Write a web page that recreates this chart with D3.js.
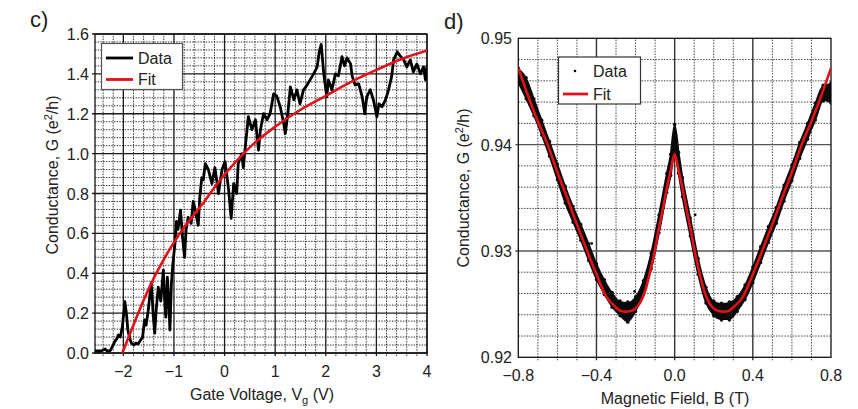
<!DOCTYPE html>
<html><head><meta charset="utf-8">
<script src="https://cdn.jsdelivr.net/npm/d3@7"></script>
<style>
html,body{margin:0;padding:0;background:#fff;}
svg{display:block;font-family:"Liberation Sans",Arial,sans-serif;}
</style></head>
<body><svg id="chart" width="858" height="409"></svg>
<script>
// ---------- Panel c data ----------
const gateV = [-2.57,-2.50,-2.42,-2.36,-2.32,-2.26,-2.22,-2.17,-2.12,-2.10,-2.06,-2.02,-1.97,-1.94,-1.91,-1.87,-1.84,-1.79,-1.75,-1.71,-1.68,-1.62,-1.58,-1.55,-1.51,-1.48,-1.45,-1.43,-1.41,-1.38,-1.35,-1.31,-1.26,-1.21,-1.19,-1.16,-1.13,-1.10,-1.08,-1.05,-1.02,-0.98,-0.95,-0.92,-0.87,-0.83,-0.79,-0.76,-0.72,-0.66,-0.62,-0.59,-0.52,-0.49,-0.45,-0.42,-0.38,-0.32,-0.25,-0.19,-0.12,-0.05,0.01,0.08,0.13,0.18,0.24,0.27,0.34,0.37,0.41,0.47,0.54,0.61,0.67,0.71,0.77,0.84,0.90,0.97,1.03,1.10,1.17,1.20,1.25,1.30,1.37,1.43,1.49,1.56,1.62,1.69,1.76,1.83,1.87,1.91,1.96,2.02,2.05,2.12,2.19,2.25,2.32,2.37,2.42,2.49,2.52,2.58,2.65,2.72,2.77,2.81,2.88,2.94,3.01,3.05,3.11,3.18,3.24,3.30,3.34,3.41,3.47,3.54,3.60,3.67,3.73,3.80,3.87,3.93,3.97,4.00];
const gateG = [0.01,0.01,0.012,0.02,0.01,0.012,0.03,0.057,0.075,0.09,0.08,0.13,0.257,0.20,0.115,0.07,0.05,0.04,0.05,0.045,0.057,0.08,0.166,0.14,0.21,0.28,0.35,0.28,0.19,0.10,0.22,0.33,0.26,0.416,0.30,0.18,0.38,0.25,0.115,0.35,0.45,0.55,0.66,0.62,0.717,0.58,0.48,0.62,0.68,0.65,0.76,0.73,0.64,0.78,0.88,0.87,0.95,0.92,0.85,0.93,0.80,0.92,0.96,0.82,0.675,0.85,0.80,0.95,1.00,0.93,1.035,1.185,1.12,1.17,1.018,1.12,1.20,1.17,1.20,1.30,1.29,1.235,1.15,1.10,1.20,1.335,1.27,1.32,1.25,1.32,1.34,1.37,1.40,1.435,1.51,1.548,1.40,1.285,1.37,1.32,1.40,1.39,1.486,1.44,1.48,1.45,1.39,1.344,1.35,1.285,1.20,1.285,1.32,1.27,1.185,1.25,1.235,1.27,1.32,1.385,1.47,1.51,1.49,1.47,1.435,1.47,1.41,1.45,1.40,1.435,1.37,1.44];
const fitCV = [-2.02,-1.8,-1.6,-1.4,-1.2,-1.0,-0.8,-0.6,-0.4,-0.2,0.0,0.3,0.6,1.0,1.5,2.0,2.5,3.0,3.5,4.0];
const fitCG = [0.0,0.14,0.265,0.375,0.47,0.555,0.63,0.695,0.76,0.83,0.895,0.98,1.055,1.135,1.22,1.29,1.36,1.42,1.475,1.516];
const cXTicks = [-2,-1,0,1,2,3,4];
const cYTicks = [0,0.2,0.4,0.6,0.8,1.0,1.2,1.4,1.6];

// ---------- Panel d data ----------
const fieldB = [-0.80,-0.76,-0.72,-0.68,-0.64,-0.60,-0.56,-0.52,-0.48,-0.44,-0.40,-0.36,-0.32,-0.28,-0.24,-0.20,-0.16,-0.12,-0.08,-0.04,-0.02,0.00,0.02,0.04,0.08,0.12,0.16,0.20,0.24,0.28,0.32,0.36,0.40,0.44,0.48,0.52,0.56,0.60,0.64,0.68,0.72,0.76,0.80];
const dataLo = [0.9459,0.9444,0.9428,0.9410,0.9390,0.9368,0.9346,0.9328,0.9311,0.9292,0.9274,0.9260,0.9248,0.9240,0.9234,0.9244,0.9260,0.9284,0.9318,0.9356,0.9372,0.9398,0.9374,0.9352,0.9315,0.9279,0.9252,0.9240,0.9236,0.9236,0.9244,0.9255,0.9271,0.9290,0.9309,0.9327,0.9348,0.9367,0.9388,0.9406,0.9424,0.9442,0.9440];
const dataHi = [0.9471,0.9462,0.9442,0.9422,0.9402,0.9381,0.9360,0.9341,0.9324,0.9306,0.9287,0.9272,0.9260,0.9252,0.9251,0.9256,0.9271,0.9297,0.9333,0.9372,0.9390,0.9418,0.9392,0.9368,0.9330,0.9292,0.9265,0.9252,0.9250,0.9251,0.9256,0.9267,0.9284,0.9303,0.9322,0.9340,0.9361,0.9380,0.9401,0.9419,0.9438,0.9455,0.9457];
const outlierB = [-0.425,-0.205,0.105];
const outlierG = [0.9307,0.9262,0.9334];
const fitDB = [-0.80,-0.75,-0.70,-0.65,-0.60,-0.55,-0.50,-0.45,-0.40,-0.35,-0.30,-0.275,-0.25,-0.225,-0.20,-0.175,-0.15,-0.125,-0.10,-0.08,-0.06,-0.04,-0.02,0.00,0.02,0.04,0.06,0.08,0.10,0.125,0.15,0.175,0.20,0.225,0.25,0.275,0.30,0.35,0.40,0.45,0.50,0.55,0.60,0.65,0.70,0.75,0.80];
const fitDG = [0.9472,0.9446,0.9422,0.9400,0.9374,0.9350,0.9325,0.9301,0.9278,0.9257,0.9247,0.92435,0.9243,0.92435,0.9246,0.9252,0.9263,0.9281,0.9302,0.9322,0.9340,0.9359,0.9376,0.9391,0.9376,0.9359,0.9340,0.9322,0.9302,0.9281,0.9263,0.9252,0.9246,0.92435,0.9243,0.92435,0.9247,0.9257,0.9278,0.9301,0.9325,0.9350,0.9374,0.9400,0.9422,0.9446,0.9472];
const dXTicks = [-0.8,-0.4,0.0,0.4,0.8];
const dYTicks = [0.92,0.93,0.94,0.95];

const svg = d3.select("#chart");
const RED = "#e3101a";

function drawFrame(g, x, y, majX, majY, minX, minY, style) {
  const [x0, x1] = x.range(), [y0, y1] = y.range();
  const gg = g.append("g");
  gg.selectAll(".mnx").data(minX).join("line")
    .attr("x1", d => x(d)).attr("x2", d => x(d)).attr("y1", y0 + style.tick).attr("y2", y1)
    .attr("stroke", style.minColor).attr("stroke-width", style.minW).attr("stroke-dasharray", style.dash);
  gg.selectAll(".mny").data(minY).join("line")
    .attr("y1", d => y(d)).attr("y2", d => y(d)).attr("x1", x0).attr("x2", x1)
    .attr("stroke", style.minColor).attr("stroke-width", style.minW).attr("stroke-dasharray", style.dash);
  gg.selectAll(".mjx").data(majX).join("line")
    .attr("x1", d => x(d)).attr("x2", d => x(d)).attr("y1", y0 + style.tick).attr("y2", y1)
    .attr("stroke", style.majColorX).attr("stroke-width", style.majW);
  gg.selectAll(".mjy").data(majY).join("line")
    .attr("y1", d => y(d)).attr("y2", d => y(d)).attr("x1", x0 - style.tick).attr("x2", x1)
    .attr("stroke", style.majColorY).attr("stroke-width", style.majW);
  g.append("rect").attr("x", x0).attr("y", y1).attr("width", x1 - x0).attr("height", y0 - y1)
    .attr("fill", "none").attr("stroke", "#111").attr("stroke-width", 1.3);
}

function round(v) { return Math.round(v * 1e6) / 1e6; }

// ================= Panel c =================
const xc = d3.scaleLinear().domain([-2.56, 4]).range([95, 427]);
const yc = d3.scaleLinear().domain([0, 1.6]).range([353, 34]);
const gc = svg.append("g");
const cMinX = d3.range(-2.4, 4.001, 0.2).map(round).filter(v => Math.abs(v - Math.round(v)) > 1e-6);
const cMinY = d3.range(0, 1.6001, 0.04).map(round).filter(v => Math.abs(v * 5 - Math.round(v * 5)) > 1e-6);
drawFrame(gc, xc, yc, cXTicks, cYTicks, cMinX, cMinY, {
  tick: 3, minColor: "#222", minW: 0.9, dash: "1.5,1.2", majColorX: "#1a1a1a", majColorY: "#1a1a1a", majW: 1.3
});
gc.append("defs").append("clipPath").attr("id", "clipc").append("rect")
  .attr("x", 95).attr("y", 34).attr("width", 332).attr("height", 319);
const cData = gateV.map((v, i) => [v, gateG[i]]);
gc.append("path").datum(cData).attr("clip-path", "url(#clipc)")
  .attr("d", d3.line().x(d => xc(d[0])).y(d => yc(d[1])))
  .attr("fill", "none").attr("stroke", "#000").attr("stroke-width", 2.8).attr("stroke-linejoin", "round");
const cFit = fitCV.map((v, i) => [v, fitCG[i]]);
gc.append("path").datum(cFit).attr("clip-path", "url(#clipc)")
  .attr("d", d3.line().curve(d3.curveMonotoneX).x(d => xc(d[0])).y(d => yc(d[1])))
  .attr("fill", "none").attr("stroke", RED).attr("stroke-width", 2.6);
gc.selectAll(".xl").data(cXTicks).join("text").attr("x", d => xc(d)).attr("y", 377)
  .attr("text-anchor", "middle").attr("font-size", 16).attr("fill", "#222").text(d => d3.format("d")(d));
gc.selectAll(".yl").data(cYTicks).join("text").attr("x", 89).attr("y", d => yc(d) + 6)
  .attr("text-anchor", "end").attr("font-size", 16).attr("fill", "#222").text(d => d3.format(".1f")(d));
const cxt = gc.append("text").attr("x", 262).attr("y", 400).attr("text-anchor", "middle")
  .attr("font-size", 16).attr("fill", "#222");
cxt.append("tspan").text("Gate Voltage, V");
cxt.append("tspan").attr("font-size", 11).attr("dy", 4).text("g");
cxt.append("tspan").attr("dy", -4).text(" (V)");
const cyt = gc.append("text").attr("transform", "translate(58,175) rotate(-90)").attr("text-anchor", "middle")
  .attr("font-size", 16).attr("fill", "#222");
cyt.append("tspan").text("Conductance, G (e");
cyt.append("tspan").attr("font-size", 11).attr("dy", -6).text("2");
cyt.append("tspan").attr("dy", 6).text("/h)");
gc.append("text").attr("x", 30).attr("y", 27).attr("font-size", 22).attr("fill", "#222").text("c)");
const lc = gc.append("g");
lc.append("rect").attr("x", 101.5).attr("y", 43.5).attr("width", 81).attr("height", 46)
  .attr("fill", "#fff").attr("stroke", "#555").attr("stroke-width", 1.2);
lc.append("line").attr("x1", 106).attr("x2", 133).attr("y1", 58).attr("y2", 58).attr("stroke", "#000").attr("stroke-width", 2.8);
lc.append("text").attr("x", 138).attr("y", 63.5).attr("font-size", 16).attr("fill", "#222").text("Data");
lc.append("line").attr("x1", 106).attr("x2", 133).attr("y1", 79.5).attr("y2", 79.5).attr("stroke", RED).attr("stroke-width", 2.8);
lc.append("text").attr("x", 138).attr("y", 85).attr("font-size", 16).attr("fill", "#222").text("Fit");

// ================= Panel d =================
const xd = d3.scaleLinear().domain([-0.8, 0.8]).range([518.3, 831]);
const yd = d3.scaleLinear().domain([0.92, 0.95]).range([357.3, 38.3]);
const gd = svg.append("g");
const dMajX = [-0.4, 0.0, 0.4];
const dMinX = d3.range(-0.7, 0.7001, 0.1).map(round).filter(v => Math.abs(v * 2.5 - Math.round(v * 2.5)) > 1e-6);
const dMinY = d3.range(0.922, 0.9495, 0.002).map(round).filter(v => Math.abs(v * 100 - Math.round(v * 100)) > 1e-6);
drawFrame(gd, xd, yd, dMajX, [0.93, 0.94], dMinX, dMinY, {
  tick: 3, minColor: "#333", minW: 0.9, dash: "1.5,1.3", majColorX: "#333", majColorY: "#555", majW: 1.4
});
gd.append("defs").append("clipPath").attr("id", "clipd").append("rect")
  .attr("x", 518.3).attr("y", 38.3).attr("width", 312.7).attr("height", 319);
const band = fieldB.map((b, i) => ({ b, lo: dataLo[i], hi: dataHi[i] }));
const gdd = gd.append("g").attr("clip-path", "url(#clipd)");
gdd.append("path").datum(band)
  .attr("d", d3.area().curve(d3.curveMonotoneX).x(d => xd(d.b)).y0(d => yd(d.lo)).y1(d => yd(d.hi)))
  .attr("fill", "#0a0a0a").attr("stroke", "#0a0a0a").attr("stroke-width", 2.2).attr("stroke-linejoin", "round");
gdd.selectAll(".dlo").data(band).join("circle").attr("cx", d => xd(d.b)).attr("cy", d => yd(d.lo) + 1)
  .attr("r", 1.7).attr("fill", "#0a0a0a");
gdd.selectAll(".dhi").data(band).join("circle").attr("cx", d => xd(d.b)).attr("cy", d => yd(d.hi) - 1)
  .attr("r", 1.7).attr("fill", "#0a0a0a");
gdd.selectAll(".dout").data(outlierB.map((b, i) => [b, outlierG[i]])).join("circle")
  .attr("cx", d => xd(d[0])).attr("cy", d => yd(d[1])).attr("r", 1.4).attr("fill", "#0a0a0a");
const dFit = fitDB.map((b, i) => [b, fitDG[i]]);
gdd.append("path").datum(dFit)
  .attr("d", d3.line().curve(d3.curveMonotoneX).x(d => xd(d[0])).y(d => yd(d[1])))
  .attr("fill", "none").attr("stroke", RED).attr("stroke-width", 2.6);
gd.selectAll(".xl").data(dXTicks).join("text").attr("x", d => xd(d)).attr("y", 381)
  .attr("text-anchor", "middle").attr("font-size", 16).attr("fill", "#222").text(d => d3.format(".1f")(d));
gd.selectAll(".yl").data(dYTicks).join("text").attr("x", 512).attr("y", d => yd(d) + 6)
  .attr("text-anchor", "end").attr("font-size", 16).attr("fill", "#222").text(d => d3.format(".2f")(d));
gd.append("text").attr("x", 675).attr("y", 404).attr("text-anchor", "middle")
  .attr("font-size", 16).attr("fill", "#222").text("Magnetic Field, B (T)");
const dyt = gd.append("text").attr("transform", "translate(469,188) rotate(-90)").attr("text-anchor", "middle")
  .attr("font-size", 16).attr("fill", "#222");
dyt.append("tspan").text("Conductance, G (e");
dyt.append("tspan").attr("font-size", 11).attr("dy", -6).text("2");
dyt.append("tspan").attr("dy", 6).text("/h)");
gd.append("text").attr("x", 444).attr("y", 29).attr("font-size", 22).attr("fill", "#222").text("d)");
const ld = gd.append("g");
ld.append("rect").attr("x", 558.5).attr("y", 57).attr("width", 82).attr("height", 47)
  .attr("fill", "#fff").attr("stroke", "#333").attr("stroke-width", 1.2);
ld.append("circle").attr("cx", 575).attr("cy", 71).attr("r", 1.3).attr("fill", "#000");
ld.append("text").attr("x", 593).attr("y", 76.5).attr("font-size", 16).attr("fill", "#222").text("Data");
ld.append("line").attr("x1", 563).attr("x2", 588).attr("y1", 94).attr("y2", 94).attr("stroke", RED).attr("stroke-width", 2.8);
ld.append("text").attr("x", 593).attr("y", 99.5).attr("font-size", 16).attr("fill", "#222").text("Fit");
</script></body></html>
